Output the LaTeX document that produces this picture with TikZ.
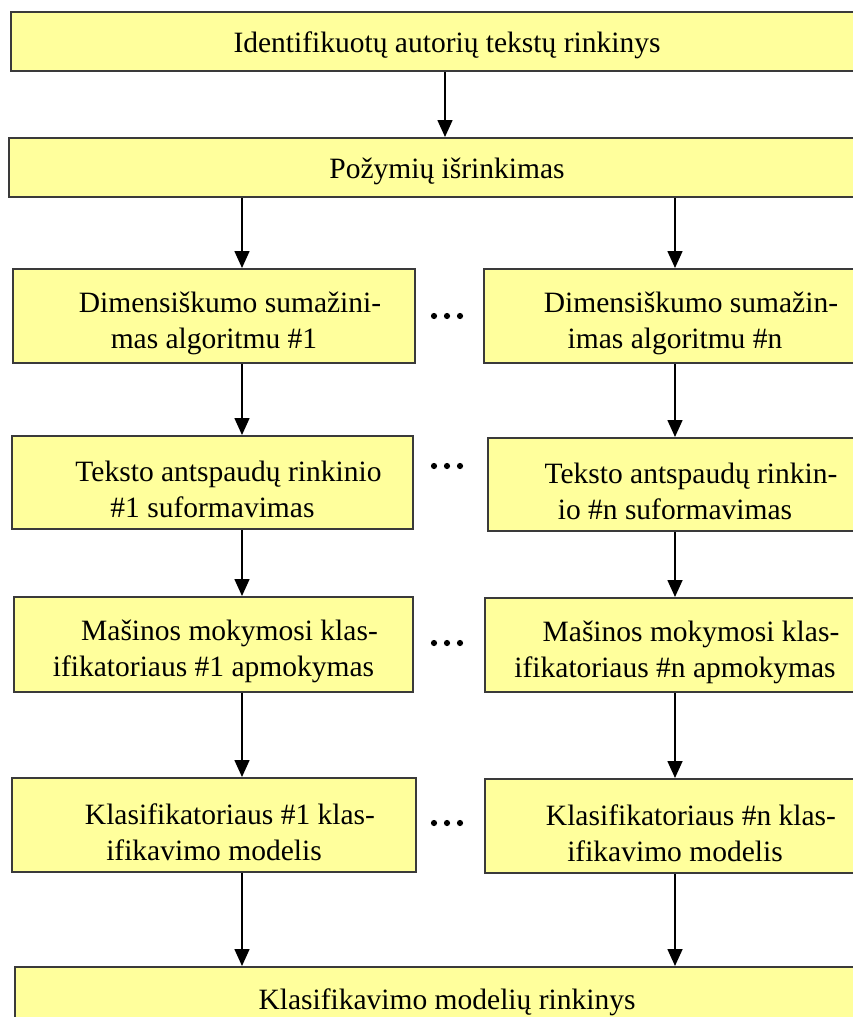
\documentclass[tikz,border=0pt]{standalone}
\usepackage{fontspec}
\setmainfont{Liberation Serif}
\usetikzlibrary{arrows.meta}
\definecolor{boxfill}{HTML}{FFFF9C}
\definecolor{boxline}{HTML}{3A3A3A}
% first line of a two-line label: taller strut and an indent
\newcommand{\firstind}{\rule{0pt}{35pt}\hspace*{32pt}}
\begin{document}
\begin{tikzpicture}[x=1pt,y=-1pt,
  box/.style={draw=boxline,line width=2pt,fill=boxfill,align=center,
    font=\fontsize{29.5}{36}\selectfont,inner sep=0pt},
  wide/.style={box,text height=29pt,text depth=7pt},
  arr/.style={line width=1.6pt,-{Triangle[width=15pt,length=17pt]}},
  dotmark/.style={circle,fill=black,inner sep=0pt,minimum size=6.2pt}]
\useasboundingbox (0,0) rectangle (853,1017);
\clip (0,0) rectangle (853,1017);

% full-width boxes
\node[wide,minimum width=872pt,minimum height=59pt] (top) at (447,41.5)
  {Identifikuotų autorių tekstų rinkinys};
\node[wide,minimum width=876pt,minimum height=59pt] (feat) at (447,167.5)
  {Požymių išrinkimas};

% left column (#1)
\node[box,minimum width=402pt,minimum height=94pt] (L1) at (214,316)
  {\firstind Dimensiškumo sumažini-\\mas algoritmu \#1};
\node[box,minimum width=401pt,minimum height=93pt] (L2) at (212.5,482.5)
  {\firstind Teksto antspaudų rinkinio\\\#1 suformavimas};
\node[box,minimum width=399pt,minimum height=95pt] (L3) at (213.5,644.5)
  {\firstind Mašinos mokymosi klas-\\ifikatoriaus \#1 apmokymas};
\node[box,minimum width=404pt,minimum height=94pt] (L4) at (214,825)
  {\firstind Klasifikatoriaus \#1 klas-\\ifikavimo modelis};

% right column (#n)
\node[box,minimum width=382pt,minimum height=94pt] (R1) at (675,316)
  {\firstind Dimensiškumo sumažin-\\imas algoritmu \#n};
\node[box,minimum width=374pt,minimum height=93pt] (R2) at (675,484.5)
  {\firstind Teksto antspaudų rinkin-\\io \#n suformavimas};
\node[box,minimum width=380pt,minimum height=94pt] (R3) at (675,645)
  {\firstind Mašinos mokymosi klas-\\ifikatoriaus \#n apmokymas};
\node[box,minimum width=380pt,minimum height=94pt] (R4) at (675,826)
  {\firstind Klasifikatoriaus \#n klas-\\ifikavimo modelis};

% collecting box
\node[wide,minimum width=864pt,minimum height=63pt] (bottom) at (447,998.5)
  {Klasifikavimo modelių rinkinys};

% ellipsis marks between the columns
\foreach \y/\n in {316/1,466/2,643/3,823/4}{
  \node[dotmark] (d\n a) at (434,\y) {};
  \node[dotmark] (d\n b) at (447,\y) {};
  \node[dotmark] (d\n c) at (460,\y) {};
}

% vertical lanes of the connectors
\coordinate (xm) at (445,0);
\coordinate (xl) at (242,0);
\coordinate (xr) at (675,0);

\draw[arr] (top.south -| xm) -- (feat.north -| xm);
\draw[arr] (feat.south -| xl) -- (L1.north -| xl);
\draw[arr] (feat.south -| xr) -- (R1.north -| xr);
\draw[arr] (L1.south -| xl) -- (L2.north -| xl);
\draw[arr] (R1.south -| xr) -- (R2.north -| xr);
\draw[arr] (L2.south -| xl) -- (L3.north -| xl);
\draw[arr] (R2.south -| xr) -- (R3.north -| xr);
\draw[arr] (L3.south -| xl) -- (L4.north -| xl);
\draw[arr] (R3.south -| xr) -- (R4.north -| xr);
\draw[arr] (L4.south -| xl) -- (bottom.north -| xl);
\draw[arr] (R4.south -| xr) -- (bottom.north -| xr);
\end{tikzpicture}
\end{document}
